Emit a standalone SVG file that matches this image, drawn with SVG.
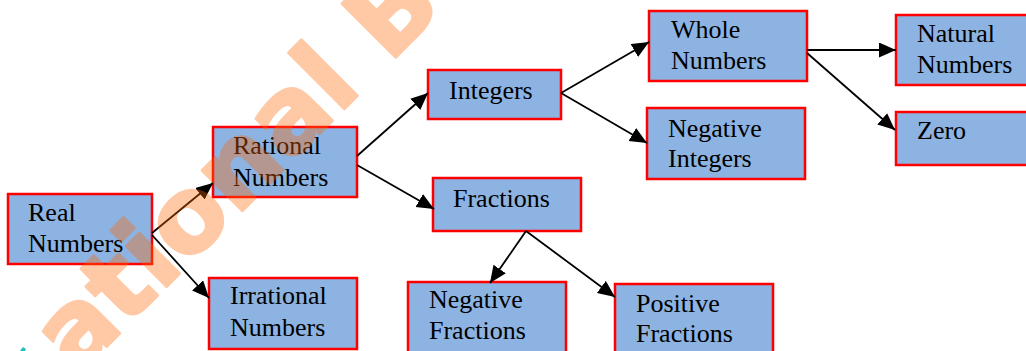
<svg xmlns="http://www.w3.org/2000/svg" width="1026" height="351" viewBox="0 0 1026 351">
<defs>
<style>
.box{fill:#8DB3E2;stroke:#FF0000;stroke-width:2.5}
.lbl{font-family:"Liberation Serif","Times New Roman",serif;font-size:26px;fill:#000}
.edge{stroke:#000;stroke-width:1.8;fill:none;marker-end:url(#ah)}
.wm{font-family:"DejaVu Sans","Liberation Sans",sans-serif;font-weight:bold;font-size:104px;fill:#FF6600;stroke:#FF6600;stroke-width:3;stroke-linejoin:round;opacity:0.35}
</style>
<marker id="ah" markerUnits="userSpaceOnUse" markerWidth="20" markerHeight="16" refX="17" refY="7.5" orient="auto">
<path d="M0,0 L17,7.5 L0,15 Z" fill="#000"/>
</marker>
</defs>
<rect width="1026" height="351" fill="#fff"/>
<g id="real"><rect class="box" x="8" y="194" width="144" height="70"/><text class="lbl" x="28" y="221">Real</text><text class="lbl" x="28" y="252">Numbers</text></g>
<g id="rational"><rect class="box" x="213" y="127" width="144" height="70"/><text class="lbl" x="233" y="154">Rational</text><text class="lbl" x="233" y="186">Numbers</text></g>
<g id="irrational"><rect class="box" x="209" y="278" width="148" height="71"/><text class="lbl" x="230" y="304">Irrational</text><text class="lbl" x="230" y="336">Numbers</text></g>
<g id="integers"><rect class="box" x="428" y="70" width="133" height="49"/><text class="lbl" x="449" y="99">Integers</text></g>
<g id="fractions"><rect class="box" x="433" y="178" width="148" height="53"/><text class="lbl" x="453" y="207">Fractions</text></g>
<g id="whole"><rect class="box" x="649" y="11" width="158" height="70"/><text class="lbl" x="671" y="38">Whole</text><text class="lbl" x="671" y="69">Numbers</text></g>
<g id="negint"><rect class="box" x="647" y="108" width="158" height="71"/><text class="lbl" x="668" y="137">Negative</text><text class="lbl" x="668" y="167">Integers</text></g>
<g id="natural"><rect class="box" x="896" y="15" width="140" height="70"/><text class="lbl" x="917" y="42">Natural</text><text class="lbl" x="917" y="73">Numbers</text></g>
<g id="zero"><rect class="box" x="896" y="112" width="140" height="53"/><text class="lbl" x="917" y="139">Zero</text></g>
<g id="negfrac"><rect class="box" x="408" y="282" width="158" height="75"/><text class="lbl" x="429" y="308">Negative</text><text class="lbl" x="429" y="339">Fractions</text></g>
<g id="posfrac"><rect class="box" x="615" y="284" width="158" height="75"/><text class="lbl" x="636" y="312">Positive</text><text class="lbl" x="636" y="342">Fractions</text></g>
<g id="connectors">
<line class="edge" x1="152" y1="233" x2="213" y2="183"/>
<line class="edge" x1="152" y1="235" x2="209" y2="298"/>
<line class="edge" x1="357" y1="156" x2="428" y2="93"/>
<line class="edge" x1="357" y1="165" x2="434" y2="209"/>
<line class="edge" x1="561" y1="93" x2="649" y2="42"/>
<line class="edge" x1="561" y1="93" x2="647" y2="143"/>
<line class="edge" x1="807" y1="50" x2="896" y2="50"/>
<line class="edge" x1="807" y1="53" x2="895" y2="130"/>
<line class="edge" x1="526" y1="231" x2="490" y2="283"/>
<line class="edge" x1="526" y1="231" x2="615" y2="297"/>
</g>
<text class="wm" transform="translate(350,103) rotate(-45)" x="-388" y="0">ational B</text>
<path d="M20,351 L23,347 L26,349 L25,351 Z" fill="#20C0C0"/>
</svg>
